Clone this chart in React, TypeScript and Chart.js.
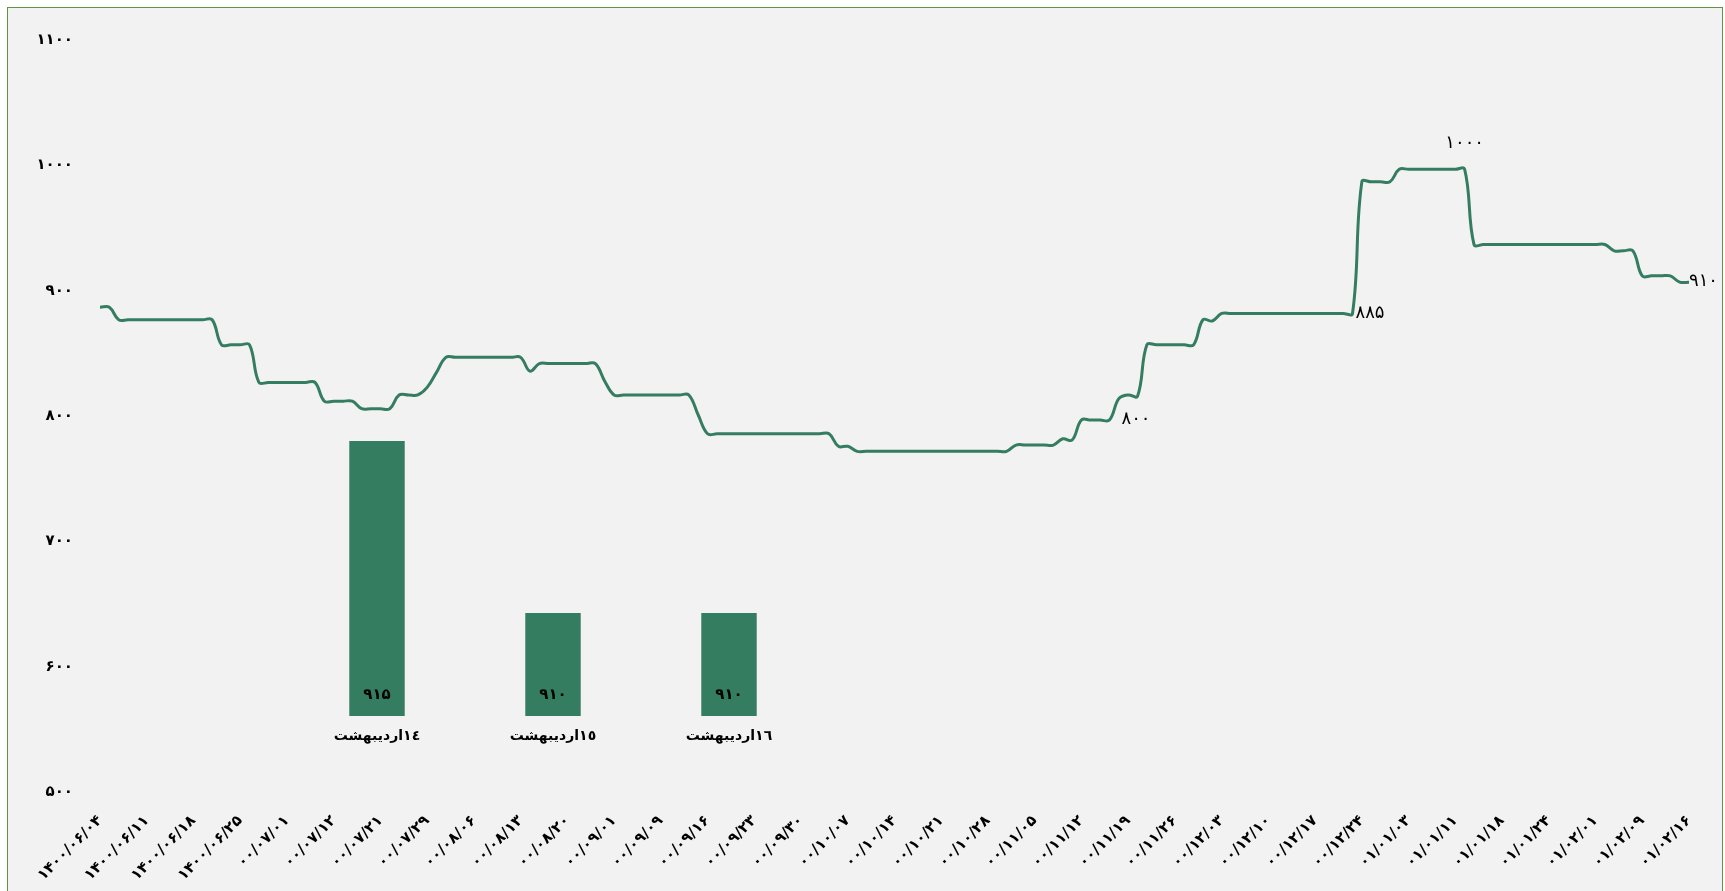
import React, { useEffect, useRef } from 'react';
import { Chart, registerables } from 'chart.js';

Chart.register(...registerables);

// ---------- data ----------
const xTickLabels = [
  '۱۴۰۰/۰۶/۰۴', '۱۴۰۰/۰۶/۱۱', '۱۴۰۰/۰۶/۱۸', '۱۴۰۰/۰۶/۲۵',
  '۰۰/۰۷/۰۱', '۰۰/۰۷/۱۲', '۰۰/۰۷/۲۱', '۰۰/۰۷/۲۹',
  '۰۰/۰۸/۰۶', '۰۰/۰۸/۱۳', '۰۰/۰۸/۲۰',
  '۰۰/۰۹/۰۱', '۰۰/۰۹/۰۹', '۰۰/۰۹/۱۶', '۰۰/۰۹/۲۳', '۰۰/۰۹/۳۰',
  '۰۰/۱۰/۰۷', '۰۰/۱۰/۱۴', '۰۰/۱۰/۲۱', '۰۰/۱۰/۲۸',
  '۰۰/۱۱/۰۵', '۰۰/۱۱/۱۲', '۰۰/۱۱/۱۹', '۰۰/۱۱/۲۶',
  '۰۰/۱۲/۰۳', '۰۰/۱۲/۱۰', '۰۰/۱۲/۱۷', '۰۰/۱۲/۲۴',
  '۰۱/۰۱/۰۳', '۰۱/۰۱/۱۱', '۰۱/۰۱/۱۸', '۰۱/۰۱/۲۴',
  '۰۱/۰۲/۰۱', '۰۱/۰۲/۰۹', '۰۱/۰۲/۱۶',
];
const pointsPerTick = 5;

const priceValues = [
  890, 890, 880, 880, 880, 880, 880, 880, 880, 880,
  880, 880, 880, 860, 860, 860, 860, 830, 830, 830,
  830, 830, 830, 830, 815, 815, 815, 815, 809, 809,
  809, 809, 820, 820, 820, 826, 838, 850, 850, 850,
  850, 850, 850, 850, 850, 850, 839, 845, 845, 845,
  845, 845, 845, 845, 831, 820, 820, 820, 820, 820,
  820, 820, 820, 820, 804, 789, 789, 789, 789, 789,
  789, 789, 789, 789, 789, 789, 789, 789, 789, 779,
  779, 775, 775, 775, 775, 775, 775, 775, 775, 775,
  775, 775, 775, 775, 775, 775, 775, 775, 780, 780,
  780, 780, 780, 785, 784, 800, 800, 800, 800, 817,
  820, 819, 860, 860, 860, 860, 860, 860, 880, 879,
  885, 885, 885, 885, 885, 885, 885, 885, 885, 885,
  885, 885, 885, 885, 885, 990, 990, 990, 990, 1000,
  1000, 1000, 1000, 1000, 1000, 1000, 1000, 940, 940, 940,
  940, 940, 940, 940, 940, 940, 940, 940, 940, 940,
  940, 940, 935, 935, 935, 915, 915, 915, 915, 910,
  910,
];

// points whose value is written next to the line
const noteIndices = [108, 134, 146, 170];

const yMin = 500;
const yMax = 1100;
const yStep = 100;

const barCategories = ['١٤اردیبهشت', '١٥اردیبهشت', '١٦اردیبهشت'];
const barValues = [915, 910, 910];
const barAxisMin = 907;
const barAxisMax = 915;

// ---------- styles ----------
const GREEN = '#347d61';
const FONT = '"DejaVu Sans", sans-serif';
const notePlacement = [
  { align: 'left', dx: 12, dy: -1 },
  { align: 'left', dx: 3, dy: 0 },
  { align: 'center', dx: 0, dy: -26 },
  { align: 'left', dx: 0, dy: -1 },
];

const FA_DIGITS = '۰۱۲۳۴۵۶۷۸۹';
const toFa = (n: number | string) => String(n).replace(/\d/g, (d) => FA_DIGITS[Number(d)]);

const xLabels = priceValues.map((_, i) => (i % pointsPerTick === 0 ? xTickLabels[i / pointsPerTick] : ''));

const notesPlugin = {
  id: 'lineNotes',
  afterDatasetsDraw(chart: any) {
    const meta = chart.getDatasetMeta(0);
    const ctx = chart.ctx;
    ctx.save();
    ctx.font = `18px ${FONT}`;
    ctx.fillStyle = '#000';
    ctx.textBaseline = 'middle';
    noteIndices.forEach((idx, k) => {
      const pt = meta.data[idx];
      const p = notePlacement[k];
      ctx.textAlign = p.align;
      ctx.fillText(toFa(priceValues[idx]), pt.x + p.dx, pt.y + p.dy);
    });
    ctx.restore();
  },
};

const barValuePlugin = {
  id: 'barValues',
  afterDatasetsDraw(chart: any) {
    const meta = chart.getDatasetMeta(0);
    const ctx = chart.ctx;
    const basePx = chart.scales.y.getPixelForValue(barAxisMin);
    ctx.save();
    ctx.font = `bold 15px ${FONT}`;
    ctx.fillStyle = '#000';
    ctx.textAlign = 'center';
    ctx.textBaseline = 'middle';
    meta.data.forEach((bar: any, i: number) => {
      ctx.fillText(toFa(barValues[i]), bar.x, basePx - 21);
    });
    ctx.restore();
  },
};

export default function App() {
  const lineRef = useRef<HTMLCanvasElement>(null);
  const barRef = useRef<HTMLCanvasElement>(null);

  useEffect(() => {
    const lineChart = new Chart(lineRef.current as HTMLCanvasElement, {
      type: 'line',
      data: {
        labels: xLabels,
        datasets: [
          {
            data: priceValues,
            borderColor: GREEN,
            borderWidth: 3,
            pointRadius: 0,
            tension: 0.4,
            fill: false,
          },
        ],
      },
      options: {
        animation: false,
        responsive: false,
        maintainAspectRatio: false,
        layout: { padding: { top: 31, right: 33, left: 0, bottom: 0 } },
        plugins: { legend: { display: false }, tooltip: { enabled: false } },
        scales: {
          x: {
            grid: { display: false, drawTicks: false },
            border: { display: false },
            ticks: {
              autoSkip: false,
              maxRotation: 45,
              minRotation: 45,
              color: '#000',
              padding: 16,
              font: { family: FONT, size: 15, weight: 'bold' },
            },
            afterFit: (s: any) => {
              s.height = 96;
            },
          },
          y: {
            min: yMin,
            max: yMax,
            grid: { display: false, drawTicks: false },
            border: { display: false },
            ticks: {
              stepSize: yStep,
              color: '#000',
              padding: 27,
              labelOffset: -4,
              font: { family: FONT, size: 15, weight: 'bold' },
              callback: (v: any) => toFa(v),
            },
            afterFit: (s: any) => {
              s.width = 92;
            },
          },
        },
      } as any,
      plugins: [notesPlugin],
    });

    const barChart = new Chart(barRef.current as HTMLCanvasElement, {
      type: 'bar',
      data: {
        labels: barCategories,
        datasets: [
          {
            data: barValues,
            backgroundColor: GREEN,
            categoryPercentage: 0.35,
            barPercentage: 0.9,
          },
        ],
      },
      options: {
        animation: false,
        responsive: false,
        maintainAspectRatio: false,
        layout: { padding: 0 },
        plugins: { legend: { display: false }, tooltip: { enabled: false } },
        scales: {
          x: {
            grid: { display: false, drawTicks: false },
            border: { display: false },
            ticks: {
              color: '#000',
              padding: 12,
              font: { family: FONT, size: 14, weight: 'bold' },
            },
            afterFit: (s: any) => {
              s.height = 35;
            },
          },
          y: { display: false, min: barAxisMin, max: barAxisMax },
        },
      } as any,
      plugins: [barValuePlugin],
    });

    return () => {
      lineChart.destroy();
      barChart.destroy();
    };
  }, []);

  return (
    <div
      style={{
        position: 'fixed',
        left: 7,
        top: 7,
        width: 1716,
        height: 900,
        boxSizing: 'border-box',
        border: '1px solid #5e9640',
        background: '#f2f2f2',
        overflow: 'hidden',
      }}
    >
      <canvas ref={lineRef} width={1714} height={884} style={{ position: 'absolute', left: 0, top: 0 }} />
      <canvas ref={barRef} width={528} height={310} style={{ position: 'absolute', left: 281, top: 433 }} />
    </div>
  );
}
